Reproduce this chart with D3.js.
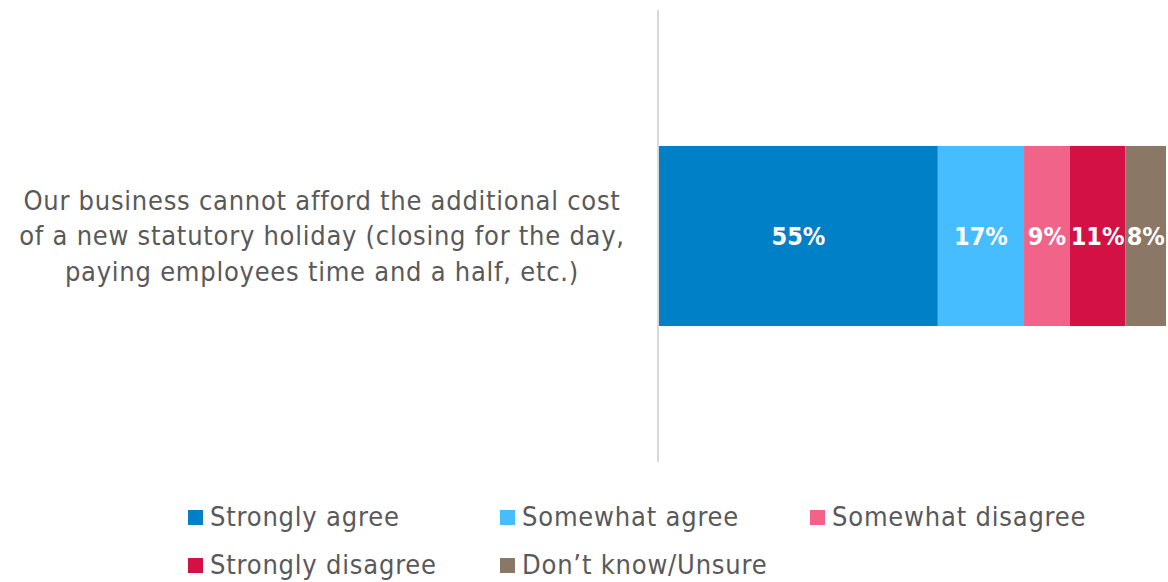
<!DOCTYPE html>
<html>
<head>
<meta charset="utf-8">
<script src="https://cdn.jsdelivr.net/npm/d3@7"></script>
<style>
  body { margin: 0; background: #fff; }
  svg text { font-family: "DejaVu Sans Condensed", "DejaVu Sans", sans-serif; }
</style>
</head>
<body>
<svg width="1168" height="582"></svg>
<script>
// data
var categories = ["Our business cannot afford the additional cost|of a new statutory holiday (closing for the day,|paying employees time and a half, etc.)"];
var seriesNames = ["Strongly agree", "Somewhat agree", "Somewhat disagree", "Strongly disagree", "Don\u2019t know/Unsure"];
var seriesValues = [55, 17, 9, 11, 8];
var seriesColors = ["#0080c6", "#45bdff", "#f26389", "#d31145", "#8a7766"];

var svg = d3.select("svg"),
    width = +svg.attr("width"),
    height = +svg.attr("height"),
    margin = {top: 10, right: 2, bottom: 120, left: 659};

var x = d3.scaleLinear()
    .domain([0, d3.sum(seriesValues)])
    .range([margin.left, width - margin.right]);

var y = d3.scaleBand()
    .domain(categories)
    .range([margin.top, height - margin.bottom])
    .paddingInner(0)
    .paddingOuter(0.755);

// stack the segments
var stacked = [];
var acc = 0;
seriesValues.forEach(function(v, i) {
  stacked.push({name: seriesNames[i], value: v, x0: acc, x1: acc + v, color: seriesColors[i], cat: categories[0]});
  acc += v;
});

svg.append("g")
  .selectAll("rect")
  .data(stacked)
  .enter().append("rect")
    .attr("x", function(d) { return x(d.x0); })
    .attr("y", function(d) { return y(d.cat); })
    .attr("width", function(d) { return x(d.x1) - x(d.x0); })
    .attr("height", y.bandwidth())
    .attr("fill", function(d) { return d.color; });

svg.append("g")
  .selectAll("text")
  .data(stacked)
  .enter().append("text")
    .attr("x", function(d) { return (x(d.x0) + x(d.x1)) / 2; })
    .attr("y", function(d) { return y(d.cat) + y.bandwidth() / 2; })
    .attr("dy", "0.35em")
    .attr("text-anchor", "middle")
    .attr("fill", "#fff")
    .attr("font-weight", "bold")
    .attr("font-size", 25)
    .text(function(d) { return d.value + "%"; });

// vertical axis
var yAxis = svg.append("g")
    .attr("transform", "translate(" + (margin.left - 1) + ",0)")
    .call(d3.axisLeft(y).tickSize(0).tickFormat(""));
yAxis.select(".domain").attr("stroke", "#d9d9d9").attr("stroke-width", 2)
    .attr("d", "M0," + margin.top + "V" + (height - margin.bottom));

// category label
svg.append("g")
  .selectAll("text")
  .data(categories)
  .enter().append("text")
    .attr("text-anchor", "middle")
    .attr("fill", "#595959")
    .attr("font-size", 27)
    .attr("letter-spacing", 0.75)
    .attr("y", function(d) { return y(d) + y.bandwidth() / 2; })
  .selectAll("tspan")
  .data(function(d) { var l = d.split("|"); return l.map(function(t, i) { return {t: t, i: i, n: l.length}; }); })
  .enter().append("tspan")
    .attr("x", 322)
    .attr("dy", function(d) { return d.i === 0 ? (0.35 - (d.n - 1) * 0.65) + "em" : "1.3em"; })
    .text(function(d) { return d.t; });

// legend
var legendPos = [[188, 517], [500, 517], [810, 517], [188, 565], [500, 565]];
var legend = svg.append("g")
  .selectAll("g")
  .data(seriesNames)
  .enter().append("g")
    .attr("transform", function(d, i) { return "translate(" + legendPos[i][0] + "," + legendPos[i][1] + ")"; });

legend.append("rect")
    .attr("x", 0).attr("y", -7)
    .attr("width", 15).attr("height", 15)
    .attr("fill", function(d, i) { return seriesColors[i]; });

legend.append("text")
    .attr("x", 22)
    .attr("dy", "0.35em")
    .attr("fill", "#595959")
    .attr("font-size", 27)
    .attr("letter-spacing", 0.8)
    .text(function(d) { return d; });
</script>
</body>
</html>
